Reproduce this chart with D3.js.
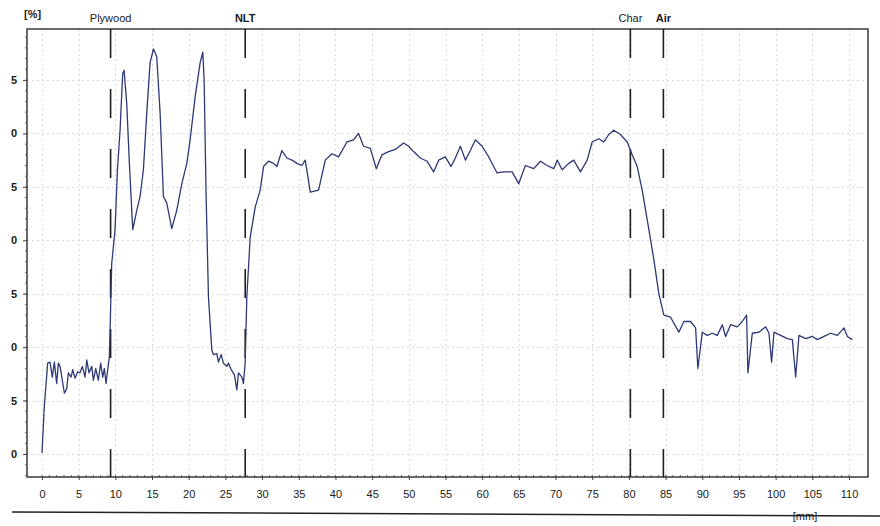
<!DOCTYPE html>
<html><head><meta charset="utf-8">
<script src="https://cdn.jsdelivr.net/npm/d3@7"></script>
<style>
body{margin:0;background:#fff}
svg{display:block}
text{font-family:"Liberation Sans",Arial,sans-serif;fill:#1a1a1a}
</style>
</head><body>
<svg id="chart" width="880" height="526"></svg>
<script>
// ---- data ----
const depthMm = [
 0.0,0.31,0.77,1.09,1.41,1.68,2.0,2.23,2.46,2.77,3.05,3.37,3.59,3.96,4.19,4.5,4.87,5.18,5.5,5.87,
 6.1,6.41,6.78,7.0,7.33,7.68,8.0,8.28,8.5,8.73,8.96,9.18,9.28,9.5,9.96,10.28,10.64,11.0,11.19,11.55,
 11.91,12.37,12.92,13.37,13.82,14.28,14.73,15.19,15.64,16.1,16.55,17.0,17.69,18.37,19.06,19.74,20.19,20.87,21.55,21.92,
 22.1,22.37,22.69,23.15,23.37,23.83,24.05,24.42,24.73,25.2,25.42,25.78,26.23,26.56,26.78,27.25,27.46,27.69,27.92,28.38,
 29.06,29.74,30.2,30.87,31.56,32.02,32.70,33.38,34.07,34.75,35.43,35.88,36.57,37.70,38.61,39.52,40.42,41.57,42.47,43.15,
 43.83,44.75,45.57,46.34,47.24,48.16,49.29,49.97,50.65,51.57,52.48,53.38,54.07,54.98,55.76,56.34,57.03,57.71,58.39,59.07,
 59.99,60.89,62.03,62.93,64.08,64.98,65.89,67.03,67.94,68.85,69.76,70.22,70.90,71.80,72.48,73.40,74.31,74.99,75.89,76.58,
 77.26,77.94,78.85,79.77,80.45,81.13,81.81,82.50,83.40,84.08,84.76,85.68,86.81,87.49,88.40,89.09,89.40,90.00,90.68,91.36,
 92.05,92.73,93.18,93.86,94.77,95.46,96.04,96.22,96.82,97.72,98.64,99.09,99.45,99.77,100.68,101.60,102.28,102.73,103.18,104.09,
 105.01,105.69,106.59,107.50,108.42,109.32,109.78,110.46
];
const densityPct = [
 0.1,4.4,8.5,8.6,7.2,8.6,6.6,8.5,8.2,6.9,5.7,6.1,7.6,7.2,7.9,7.1,7.7,7.6,8.2,7.2,
 8.8,7.6,8.2,6.9,8.0,6.9,8.5,7.2,8.0,6.6,7.9,9.1,11.6,17.8,21.0,26.6,30.3,35.6,35.9,32.8,
 27.2,21.0,22.8,24.1,26.6,31.9,36.6,37.9,37.2,31.9,24.1,23.5,21.1,22.8,25.3,27.2,29.4,33.4,36.6,37.6,
 35.0,24.1,14.7,9.7,9.3,9.4,8.6,9.3,8.5,8.2,8.5,7.9,7.4,6.0,7.6,7.2,6.6,8.5,14.7,20.3,
 23.1,24.7,26.9,27.4,27.2,26.9,28.4,27.7,27.5,27.2,27.0,27.5,24.5,24.7,27.5,28.1,27.8,29.2,29.4,30.0,
 28.8,28.6,26.7,28.0,28.3,28.5,29.1,28.8,28.3,27.7,27.4,26.4,27.5,27.8,26.9,27.7,28.8,27.5,28.4,29.4,
 28.8,27.8,26.3,26.4,26.4,25.3,27.0,26.7,27.4,27.0,26.7,27.5,26.6,27.2,27.5,26.4,27.5,29.2,29.5,29.2,
 29.9,30.3,29.9,29.2,28.0,26.9,24.7,21.9,18.2,15.0,13.0,12.8,11.4,12.4,12.4,11.8,8.0,11.4,11.1,11.3,
 11.1,12.1,11.0,12.1,11.9,12.4,13.0,7.6,11.3,11.4,11.9,11.3,8.6,11.4,11.1,10.8,10.7,7.2,11.1,10.8,
 11.0,10.7,11.0,11.3,11.1,11.8,11.0,10.7
];
const xTickValues = [0,5,10,15,20,25,30,35,40,45,50,55,60,65,70,75,80,85,90,95,100,105,110];
const yTickValues = [0,5,10,15,20,25,30,35];
const yTickLabels = ["0","5","0","5","0","5","0","5"];
const markerNames = ["Plywood","NLT","Char","Air"];
const markerMm = [9.35, 27.7, 80.2, 84.7];
const markerBold = [false, true, false, true];

// ---- layout ----
const L = 27, R = 868, T = 29, B = 477;
const x = d3.scaleLinear().domain([0, 110]).range([42, 849]);
const y = d3.scaleLinear().domain([0, 35]).range([454, 80]);

const svg = d3.select("#chart");
svg.append("rect").attr("width", 880).attr("height", 526).attr("fill", "#fff");

// grid
const grid = svg.append("g").attr("stroke", "#d9d9d9").attr("stroke-width", 1).attr("stroke-dasharray", "2,3");
grid.selectAll("line.v").data(xTickValues.filter(v => x(v) > L + 2 && x(v) < R - 2)).join("line")
  .attr("x1", d => Math.round(x(d)) + 0.5).attr("x2", d => Math.round(x(d)) + 0.5)
  .attr("y1", T).attr("y2", B);
grid.selectAll("line.h").data(yTickValues.filter(v => y(v) > T + 2 && y(v) < B - 2)).join("line")
  .attr("x1", L).attr("x2", R)
  .attr("y1", d => Math.round(y(d)) + 0.5).attr("y2", d => Math.round(y(d)) + 0.5);

// x axis
const xAxis = d3.axisBottom(x).tickValues(xTickValues).tickSize(3).tickPadding(10).tickFormat(d3.format("d"));
const gx = svg.append("g").attr("transform", `translate(0,${B})`).call(xAxis);
gx.select(".domain").remove();
gx.selectAll(".tick line").attr("stroke", "#444");
gx.selectAll("text").attr("font-size", 11).attr("fill", "#1a1a1a");
// minor x ticks
const minorX = d3.range(0, 111, 1);
svg.append("g").selectAll("line").data(minorX).join("line")
  .attr("x1", d => x(d)).attr("x2", d => x(d)).attr("y1", B - 2).attr("y2", B)
  .attr("stroke", "#666").attr("stroke-width", 1);

// y axis
const yAxis = d3.axisLeft(y).tickValues(yTickValues).tickSize(4).tickPadding(6)
  .tickFormat((d, i) => yTickLabels[i]);
const gy = svg.append("g").attr("transform", `translate(${L},0)`).call(yAxis);
gy.select(".domain").remove();
gy.selectAll(".tick line").attr("stroke", "#444");
gy.selectAll("text").attr("font-size", 11).attr("font-weight", "bold").attr("fill", "#1a1a1a");
svg.append("g").selectAll("line").data(d3.range(-2, 40, 1)).join("line")
  .attr("x1", L - 2).attr("x2", L).attr("y1", d => y(d)).attr("y2", d => y(d))
  .attr("stroke", "#777").attr("stroke-width", 1);

// frame
svg.append("rect").attr("x", L).attr("y", T).attr("width", R - L).attr("height", B - T)
  .attr("fill", "none").attr("stroke", "#3a3a3a").attr("stroke-width", 1.5);

// markers
const mk = svg.append("g");
mk.selectAll("line").data(markerMm).join("line")
  .attr("x1", d => x(d)).attr("x2", d => x(d)).attr("y1", T).attr("y2", B)
  .attr("stroke", "#1e1e1e").attr("stroke-width", 1.6).attr("stroke-dasharray", "29,31");
mk.selectAll("text").data(markerMm).join("text")
  .attr("x", d => x(d)).attr("y", 22).attr("text-anchor", "middle")
  .attr("font-size", 11).attr("font-weight", (d, i) => markerBold[i] ? "bold" : "normal")
  .text((d, i) => markerNames[i]);

// data line
const pts = depthMm.map((d, i) => [d, densityPct[i]]);
svg.append("path").datum(pts)
  .attr("fill", "none").attr("stroke", "#2e3878").attr("stroke-width", 1.3)
  .attr("stroke-linejoin", "round")
  .attr("d", d3.line().x(d => x(d[0])).y(d => y(d[1])));

// unit labels
svg.append("text").attr("x", 24).attr("y", 18).attr("font-size", 11).attr("font-weight", "bold").text("[%]");
svg.append("text").attr("x", 805).attr("y", 520).attr("text-anchor", "middle").attr("font-size", 11).text("[mm]");

// bottom page rule
svg.append("line").attr("x1", 12).attr("x2", 880).attr("y1", 512).attr("y2", 516)
  .attr("stroke", "#222").attr("stroke-width", 1.5);
</script>
</body></html>
